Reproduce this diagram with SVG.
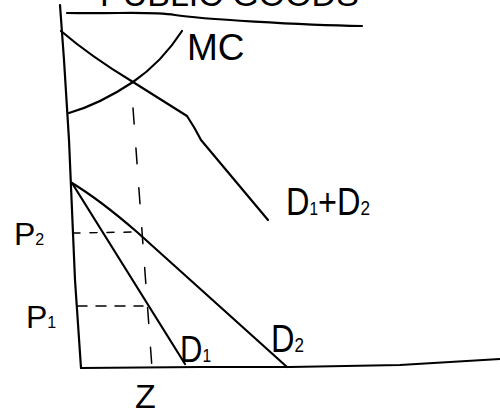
<svg xmlns="http://www.w3.org/2000/svg" width="500" height="414" viewBox="0 0 500 414">
<style>
.ln{fill:none;stroke:#000;stroke-width:2.2;stroke-linecap:round;stroke-linejoin:round}
.ds{fill:none;stroke:#000;stroke-width:1.5;stroke-linecap:round}
.lb{font-family:"Liberation Sans",Arial,sans-serif;fill:#000}
</style>
<rect width="500" height="414" fill="#fff"/>
<g id="title"><text class="lb" x="100" y="6" font-size="34">PUBLIC GOODS</text>
<path class="ln" d="M67,13 C120,14 150,11 175,15 S300,25 362,26"/></g>
<g id="axes">
<path class="ln" d="M60,5 L64,60 L69,140 L75,280 L81,368"/>
<path class="ln" d="M81,368 L200,367 L290,367 L400,365 L450,362 L500,359"/>
</g>
<g id="connectors">
<path id="d1d2" class="ln" d="M61,31 Q90,56 133,82 L187,116 Q195,128 201,140 L268,220"/>
<path id="mc" class="ln" d="M69,113 Q100,104 133,82 Q162,62 182,31"/>
<path id="d1" class="ln" d="M72,183 L185,364"/>
<path id="d2" class="ln" d="M72,183 Q100,200 137,232 L287,367"/>
<path class="ds" d="M133,108 L152,368" stroke-dasharray="16 24"/>
<path class="ds" d="M73,233 L137,232" stroke-dasharray="7 10"/>
<path class="ds" d="M77,306 L143,306" stroke-dasharray="10 9"/>
</g>
<g id="label-mc"><text class="lb" x="187" y="60" font-size="37">MC</text></g>
<g id="label-d1d2"><text class="lb" x="286" y="215" font-size="38" textLength="84" lengthAdjust="spacingAndGlyphs">D<tspan font-size="18">1</tspan>+D<tspan font-size="20">2</tspan></text></g>
<g id="label-p2"><text class="lb" x="14" y="245" font-size="32">P<tspan font-size="16">2</tspan></text></g>
<g id="label-p1"><text class="lb" x="26" y="328" font-size="32">P<tspan font-size="16">1</tspan></text></g>
<g id="label-z"><text class="lb" x="135" y="408" font-size="34">Z</text></g>
<g id="label-d1"><text class="lb" x="180" y="362" font-size="36" textLength="31" lengthAdjust="spacingAndGlyphs">D<tspan font-size="18">1</tspan></text></g>
<g id="label-d2"><text class="lb" x="271" y="352" font-size="38" textLength="33" lengthAdjust="spacingAndGlyphs">D<tspan font-size="20">2</tspan></text></g>
</svg>
